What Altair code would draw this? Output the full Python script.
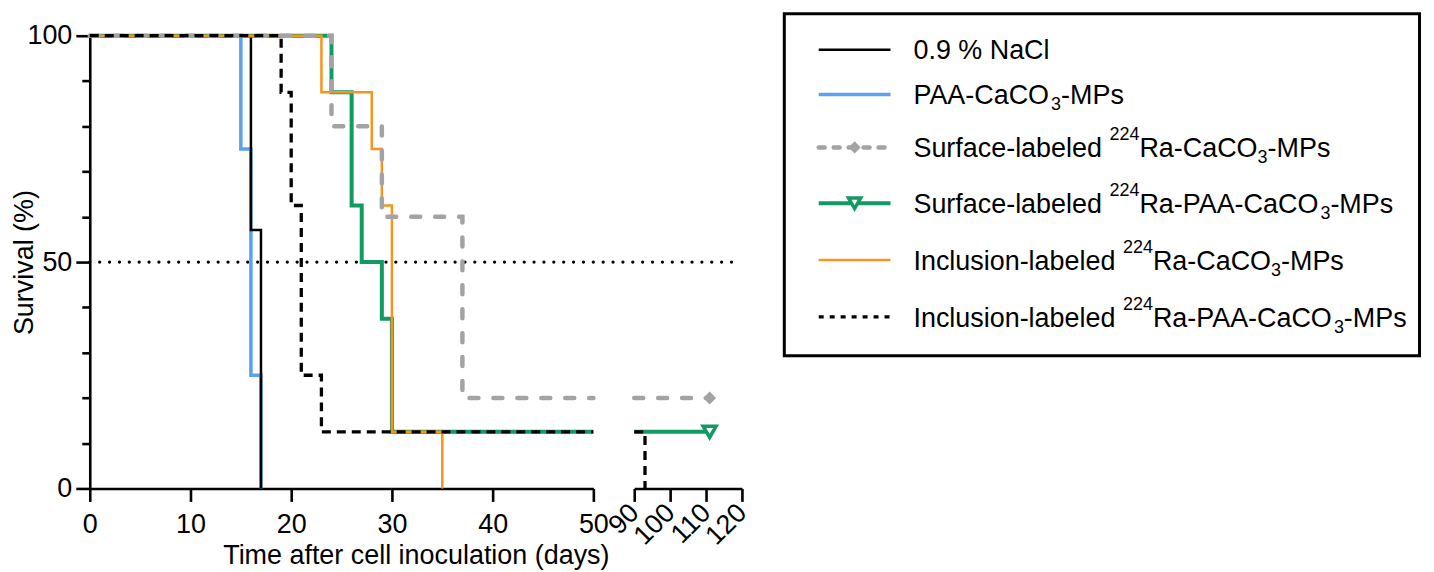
import altair as alt
import pandas as pd

FONT = "Liberation Sans, Arial, Helvetica, sans-serif"

# ---------------- data ----------------
# legend labels, split into (text, role) pieces: n = normal, sup = superscript, sub = subscript
LABEL_NACL = [("0.9 % NaCl", "n")]
LABEL_PAA = [("PAA-CaCO", "n"), ("3", "sub"), ("-MPs", "n")]
LABEL_SURF_CA = [("Surface-labeled ", "n"), ("224", "sup"), ("Ra-CaCO", "n"), ("3", "sub"), ("-MPs", "n")]
LABEL_SURF_PAA = [("Surface-labeled ", "n"), ("224", "sup"), ("Ra-PAA-CaCO", "n"), ("3", "sub"), ("-MPs", "n")]
LABEL_INC_CA = [("Inclusion-labeled ", "n"), ("224", "sup"), ("Ra-CaCO", "n"), ("3", "sub"), ("-MPs", "n")]
LABEL_INC_PAA = [("Inclusion-labeled ", "n"), ("224", "sup"), ("Ra-PAA-CaCO", "n"), ("3", "sub"), ("-MPs", "n")]
LABELS = [LABEL_NACL, LABEL_PAA, LABEL_SURF_CA, LABEL_SURF_PAA, LABEL_INC_CA, LABEL_INC_PAA]

NACL_DAYS = [0, 16, 17]
NACL_SURV = [100, 57.1, 0]

PAA_DAYS = [0, 15, 16, 17]
PAA_SURV = [100, 75, 25, 0]

SURF_CA_DAYS = [0, 24, 29, 37, 111]
SURF_CA_SURV = [100, 80, 60, 20, 20]

SURF_PAA_DAYS = [0, 24, 26, 27, 29, 30, 111]
SURF_PAA_SURV = [100, 87.5, 62.5, 50, 37.5, 12.5, 12.5]

INC_CA_DAYS = [0, 23, 28, 29, 30, 35]
INC_CA_SURV = [100, 87.5, 75, 62.5, 12.5, 0]

INC_PAA_DAYS = [0, 19, 20, 21, 23, 93]
INC_PAA_SURV = [100, 87.5, 62.5, 25, 12.5, 0]

# censored end points (marker at last follow-up)
CENSOR_DAYS = [None, None, 111, 111, None, None]
CENSOR_SURV = [None, None, 20, 12.5, None, None]

MEDIAN_LINE = 50

SERIES_DAYS = [NACL_DAYS, PAA_DAYS, SURF_CA_DAYS, SURF_PAA_DAYS, INC_CA_DAYS, INC_PAA_DAYS]
SERIES_SURV = [NACL_SURV, PAA_SURV, SURF_CA_SURV, SURF_PAA_SURV, INC_CA_SURV, INC_PAA_SURV]

# ---------------- styles ----------------
COLORS = ["#000000", "#5aa2ee", "#a3a3a5", "#119a62", "#f7941d", "#000000"]
WIDTHS = [2.5, 3.5, 4.5, 4.0, 2.5, 3.3]
DASHES = [None, None, [9, 15], None, None, [9, 6]]
CAPS = ["butt", "butt", "round", "butt", "butt", "butt"]
SHAPES = [None, None, "diamond", "triangle-down", None, None]
DRAW_ORDER = [1, 0, 3, 4, 2, 5]

LEFT_W, RIGHT_W, PLOT_H = 505, 108, 454
GAP = 41
LEG_W = 640
LEG_ROWS_Y = [14, 59, 112, 168, 225, 282]   # legend row centres (px, relative to plot top)
LEG_TOP, LEG_BOTTOM = -22, 321
LEG_LEFT, LEG_RIGHT = 1.5, 638.5
LEG_TEXT_X = 131
FS = 27
FS_SMALL = 18

LEFT_DOMAIN = [0, 50]
RIGHT_DOMAIN = [90, 120]

# Arial / Liberation Sans advance widths (per 1000 em)
ADV = {" ": 278, "%": 889, "-": 333, ".": 278, "A": 667, "C": 722, "I": 278, "M": 833,
       "N": 722, "O": 778, "P": 667, "R": 722, "S": 667, "a": 556, "b": 556, "c": 500,
       "d": 556, "e": 556, "f": 278, "i": 222, "l": 222, "n": 556, "o": 556, "r": 333,
       "s": 500, "u": 556}


def text_width(s, size):
    return sum(ADV.get(ch, 556) for ch in s) * size / 1000.0


def left_part(days, surv, cut=LEFT_DOMAIN[1]):
    pts = [(d, s) for d, s in zip(days, surv) if d <= cut]
    if days[-1] > cut:
        pts.append((cut, pts[-1][1]))
    return pd.DataFrame(pts, columns=["day", "surv"])


def right_part(days, surv, start=RIGHT_DOMAIN[0]):
    if days[-1] <= start:
        return None
    before = [s for d, s in zip(days, surv) if d <= start]
    pts = [(start, before[-1])] + [(d, s) for d, s in zip(days, surv) if d > start]
    return pd.DataFrame(pts, columns=["day", "surv"])


def line_mark(i):
    kw = dict(interpolate="step-after", color=COLORS[i], strokeWidth=WIDTHS[i],
              strokeCap=CAPS[i], strokeJoin="miter")
    if DASHES[i]:
        kw["strokeDash"] = DASHES[i]
    return kw


common_axis = dict(
    domainColor="black", domainWidth=2.6, tickColor="black", tickWidth=2.6,
    labelColor="black", titleColor="black", labelFont=FONT, titleFont=FONT,
    labelFontSize=FS, titleFontSize=FS, titleFontWeight="normal", grid=False,
)

y_left = alt.Y(
    "surv:Q",
    scale=alt.Scale(domain=[0, 100], nice=False, zero=False),
    axis=alt.Axis(
        values=[0, 10, 20, 30, 40, 50, 60, 70, 80, 90, 100],
        labelExpr="datum.value % 50 === 0 ? datum.label : ''",
        tickSize={"condition": {"test": "datum.value % 50 === 0", "value": 14}, "value": 8},
        labelPadding=4,
        title="Survival (%)",
        titleX=-57, titleY=PLOT_H / 2, titleAlign="center", titleBaseline="alphabetic",
        **common_axis,
    ),
)
x_left = alt.X(
    "day:Q",
    scale=alt.Scale(domain=LEFT_DOMAIN, nice=False, zero=False),
    axis=alt.Axis(
        values=[0, 10, 20, 30, 40, 50], tickSize=13, labelPadding=10, labelFlush=False,
        labelOverlap=False,
        title="Time after cell inoculation (days)",
        titleX=(LEFT_W + GAP + RIGHT_W) / 2, titleY=75, titleAlign="center",
        titleBaseline="alphabetic",
        **common_axis,
    ),
)
y_right = alt.Y("surv:Q", scale=alt.Scale(domain=[0, 100], nice=False, zero=False), axis=None)
x_right = alt.X(
    "day:Q",
    scale=alt.Scale(domain=RIGHT_DOMAIN, nice=False, zero=False),
    axis=alt.Axis(
        values=[90, 100, 110, 120], tickSize=13, labelPadding=7, labelFlush=False,
        labelOverlap=False, labelAngle=315, labelAlign="right", labelBaseline="middle",
        title=None, **common_axis,
    ),
)

# ---------------- left panel ----------------
left_layers = []
median = alt.Chart(pd.DataFrame({"surv": [MEDIAN_LINE]})).mark_rule(
    color="black", strokeWidth=3.2, strokeDash=[0.1, 9.8], strokeCap="round"
).encode(y=y_left, x=alt.value(0), x2=alt.value(LEFT_W + GAP + RIGHT_W - 3))
left_layers.append(median)
for i in DRAW_ORDER:
    df = left_part(SERIES_DAYS[i], SERIES_SURV[i])
    left_layers.append(alt.Chart(df).mark_line(**line_mark(i)).encode(x=x_left, y=y_left))
left = alt.layer(*left_layers).properties(width=LEFT_W, height=PLOT_H)

# ---------------- right panel ----------------
right_layers = []
for i in DRAW_ORDER:
    df = right_part(SERIES_DAYS[i], SERIES_SURV[i])
    if df is None:
        continue
    right_layers.append(alt.Chart(df).mark_line(**line_mark(i)).encode(x=x_right, y=y_right))
for i in range(len(LABELS)):
    if CENSOR_DAYS[i] is None:
        continue
    cdf = pd.DataFrame({"day": [CENSOR_DAYS[i]], "surv": [CENSOR_SURV[i]]})
    if SHAPES[i] == "diamond":
        pm = alt.Chart(cdf).mark_point(shape="diamond", filled=True, color=COLORS[i],
                                       size=170, opacity=1)
    else:
        pm = alt.Chart(cdf).mark_point(shape="triangle-down", filled=False, fill="white",
                                       stroke=COLORS[i], strokeWidth=3.5, size=170,
                                       opacity=1, fillOpacity=1)
    right_layers.append(pm.encode(x=x_right, y=y_right))
right = alt.layer(*right_layers).properties(width=RIGHT_W, height=PLOT_H)

# ---------------- legend panel ----------------
leg_layers = [
    alt.Chart(pd.DataFrame({"k": [0]})).mark_rect(
        fill="white", fillOpacity=0, stroke="black", strokeWidth=3
    ).encode(x=alt.value(LEG_LEFT), x2=alt.value(LEG_RIGHT),
             y=alt.value(LEG_TOP), y2=alt.value(LEG_BOTTOM))
]
for i, parts in enumerate(LABELS):
    ry = LEG_ROWS_Y[i]
    kw = dict(color=COLORS[i], strokeWidth=WIDTHS[i], strokeCap=CAPS[i])
    if DASHES[i]:
        kw["strokeDash"] = [5, 6] if i == 5 else [6, 9]
    one = pd.DataFrame({"k": [i]})
    leg_layers.append(alt.Chart(one).mark_rule(**kw).encode(
        x=alt.value(36), x2=alt.value(108), y=alt.value(ry)))
    if SHAPES[i] == "diamond":
        leg_layers.append(alt.Chart(one).mark_point(
            shape="diamond", filled=True, color=COLORS[i], size=150, opacity=1
        ).encode(x=alt.value(72), y=alt.value(ry)))
    elif SHAPES[i] == "triangle-down":
        leg_layers.append(alt.Chart(one).mark_point(
            shape="triangle-down", filled=False, fill="white", stroke=COLORS[i],
            strokeWidth=3.5, size=150, opacity=1, fillOpacity=1
        ).encode(x=alt.value(72), y=alt.value(ry)))
    base_y = ry + 9.7
    cx = LEG_TEXT_X
    for txt, role in parts:
        size = FS if role == "n" else FS_SMALL
        dy = 0 if role == "n" else (-17 if role == "sup" else 6)
        seg = pd.DataFrame({"label": [txt]})
        leg_layers.append(alt.Chart(seg).mark_text(
            align="left", baseline="alphabetic", font=FONT, fontSize=size, color="black"
        ).encode(x=alt.value(cx), y=alt.value(base_y + dy), text="label:N"))
        cx += text_width(txt, size)
legend = alt.layer(*leg_layers).properties(width=LEG_W, height=LEG_BOTTOM)

chart = alt.hconcat(left, right, legend, spacing=GAP, bounds="flush").properties(
    padding={"left": 3, "top": 3, "right": 5, "bottom": 5},
    background="white",
).configure_view(strokeWidth=0)

chart.save("out.html", embed_options={"renderer": "svg", "actions": False})
